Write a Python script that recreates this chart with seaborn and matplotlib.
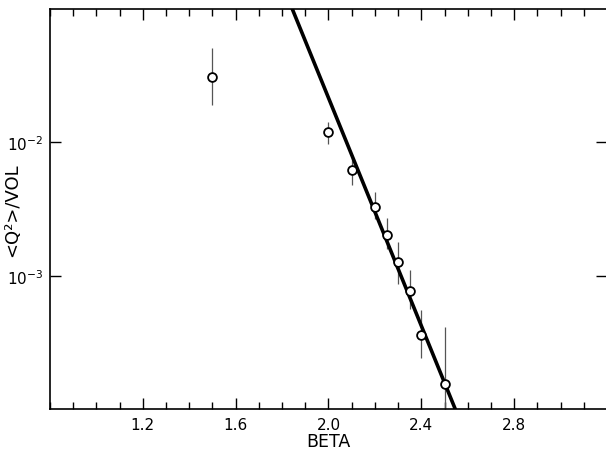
import numpy as np
import matplotlib
matplotlib.use("Agg")
import matplotlib.pyplot as plt
import matplotlib.ticker as mticker
import seaborn as sns
import pandas as pd

# ---- data ----
beta = [1.5, 2.0, 2.1, 2.2, 2.25, 2.3, 2.35, 2.4, 2.5]
q2_vol = [0.0307, 0.0119, 0.00618, 0.00329, 0.00202, 0.00126, 0.000769, 0.000361, 0.000153]
err_hi = [0.0512, 0.0142, 0.0079, 0.00422, 0.00271, 0.0018, 0.0011, 0.000557, 0.000409]
err_lo = [0.0189, 0.0098, 0.00478, 0.00266, 0.00159, 0.00087, 0.00056, 0.000243, 0.00005]

fit_beta = [1.844, 2.546]
fit_q2 = [1e-1, 1e-4]

x_ticks = [1.2, 1.6, 2.0, 2.4, 2.8]
x_tick_labels = ["1.2", "1.6", "2.0", "2.4", "2.8"]
y_ticks = [1e-2, 1e-3]
y_tick_labels = [r"$10^{-2}$", r"$10^{-3}$"]

sns.set_style("ticks")
plt.rcParams["font.family"] = ["DejaVu Sans"]
plt.rcParams["text.color"] = "black"
plt.rcParams["axes.labelcolor"] = "black"
plt.rcParams["xtick.color"] = "black"
plt.rcParams["ytick.color"] = "black"

fig = plt.figure(figsize=(6.06, 4.52), dpi=100)
ax = fig.add_axes([50 / 606, 42 / 452, 557 / 606, 400 / 452])

df_pts = pd.DataFrame({"beta": beta, "q": q2_vol})
df_fit = pd.DataFrame({"beta": fit_beta, "q": fit_q2})

# error bars
ax.vlines(beta, err_lo, err_hi, colors="#555555", linewidth=0.9, zorder=2)

# fit line
sns.lineplot(data=df_fit, x="beta", y="q", ax=ax, color="black", linewidth=2.6,
             zorder=3, legend=False)

# points
sns.scatterplot(data=df_pts, x="beta", y="q", ax=ax, marker="o", s=40,
                facecolor="white", edgecolor="black", linewidth=1.3, zorder=4,
                legend=False)

ax.set_yscale("log")
ax.set_xlim(0.8, 3.2)
ax.set_ylim(1e-4, 1e-1)

ax.xaxis.set_major_locator(mticker.FixedLocator(x_ticks))
ax.xaxis.set_major_formatter(mticker.FixedFormatter(x_tick_labels))
ax.xaxis.set_minor_locator(mticker.MultipleLocator(0.1))
ax.yaxis.set_major_locator(mticker.FixedLocator(y_ticks))
ax.yaxis.set_major_formatter(mticker.FixedFormatter(y_tick_labels))
ax.yaxis.set_minor_locator(mticker.NullLocator())

ax.tick_params(which="both", direction="in", top=True, right=True, color="black",
               labelcolor="black")
ax.tick_params(which="major", length=8, width=1.0, labelsize=11, pad=6)
ax.tick_params(which="minor", length=5, width=1.0)
ax.tick_params(axis="y", which="major", pad=5)

for s in ax.spines.values():
    s.set_linewidth(1.2)
    s.set_color("black")

ax.set_xlabel("BETA", fontsize=12.5)
ax.set_ylabel("<Q²>/VOL", fontsize=13)
ax.xaxis.set_label_coords(0.5, -0.058)
ax.yaxis.set_label_coords(-0.052, 0.5)

fig.savefig("out.png", dpi=100)
